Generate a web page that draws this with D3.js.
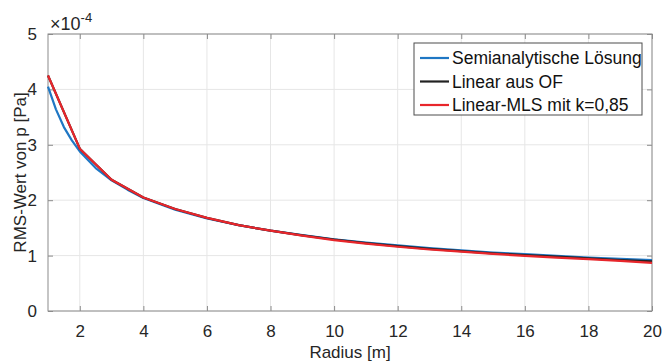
<!DOCTYPE html>
<html>
<head>
<meta charset="utf-8">
<script src="https://cdn.jsdelivr.net/npm/d3@7"></script>
<style>
  body { margin: 0; background: #fff; }
  svg { font-family: "Liberation Sans", Arial, sans-serif; }
</style>
</head>
<body>
<svg id="chart"></svg>
<script>
// values in units of 1e-4 Pa
const radiusFine = [1, 1.25, 1.5, 1.75, 2, 2.5, 3, 3.5, 4, 5, 6, 7, 8, 9, 10, 11, 12, 13, 14, 15, 16, 17, 18, 19, 20]
const semianalytic = [4.05, 3.64, 3.32, 3.08, 2.88, 2.58, 2.36, 2.19, 2.04, 1.83, 1.67, 1.55, 1.45, 1.37, 1.295, 1.235, 1.185, 1.135, 1.095, 1.055, 1.025, 0.995, 0.965, 0.94, 0.92]

const radius = [1, 2, 3, 4, 5, 6, 7, 8, 9, 10, 11, 12, 13, 14, 15, 16, 17, 18, 19, 20]
const linearOF = [4.25, 2.93, 2.37, 2.05, 1.84, 1.68, 1.55, 1.45, 1.365, 1.29, 1.225, 1.17, 1.12, 1.08, 1.04, 1.01, 0.98, 0.95, 0.92, 0.895]
const linearMLS = [4.25, 2.93, 2.37, 2.05, 1.84, 1.68, 1.55, 1.45, 1.36, 1.28, 1.215, 1.16, 1.11, 1.07, 1.03, 0.995, 0.965, 0.935, 0.905, 0.87]

const xTicks = [2, 4, 6, 8, 10, 12, 14, 16, 18, 20]
const yTicks = [0, 1, 2, 3, 4, 5]

const seriesNames = ["Semianalytische Lösung", "Linear aus OF", "Linear-MLS mit k=0,85"]
const seriesColors = ["#1f77c4", "#222222", "#e8262b"]

const width = 663, height = 361
const margin = { top: 34, right: 11, bottom: 50, left: 48 }
const innerW = width - margin.left - margin.right
const innerH = height - margin.top - margin.bottom

const svg = d3.select("#chart").attr("width", width).attr("height", height)
const g = svg.append("g").attr("transform", `translate(${margin.left},${margin.top})`)

const x = d3.scaleLinear().domain([1, 20]).range([0, innerW])
const y = d3.scaleLinear().domain([0, 5]).range([innerH, 0])

// grid
g.append("g")
  .selectAll("line")
  .data(xTicks)
  .join("line")
  .attr("x1", d => x(d)).attr("x2", d => x(d))
  .attr("y1", 0).attr("y2", innerH)
  .attr("stroke", "#e6e6e6")
g.append("g")
  .selectAll("line")
  .data(yTicks)
  .join("line")
  .attr("x1", 0).attr("x2", innerW)
  .attr("y1", d => y(d)).attr("y2", d => y(d))
  .attr("stroke", "#e6e6e6")

// axes (MATLAB style: ticks inward)
const styleAxis = sel => {
  sel.select(".domain").remove()
  sel.selectAll("line").attr("stroke", "#8c8c8c")
  sel.selectAll("text").attr("fill", "#262626").style("font-size", "17px")
}
g.append("g").attr("transform", `translate(0,${innerH})`)
  .call(d3.axisBottom(x).tickValues(xTicks).tickSize(-5).tickPadding(14).tickFormat(d3.format("d")))
  .call(styleAxis)
g.append("g")
  .call(d3.axisLeft(y).tickValues(yTicks).tickSize(-5).tickPadding(11).tickFormat(d3.format("d")))
  .call(styleAxis)
g.append("g")
  .call(d3.axisTop(x).tickValues(xTicks).tickSize(-5).tickFormat(""))
  .call(styleAxis)
g.append("g").attr("transform", `translate(${innerW},0)`)
  .call(d3.axisRight(y).tickValues(yTicks).tickSize(-5).tickFormat(""))
  .call(styleAxis)

g.append("rect")
  .attr("width", innerW).attr("height", innerH)
  .attr("fill", "none").attr("stroke", "#8c8c8c")

// lines
const line = d3.line().x(d => x(d[0])).y(d => y(d[1]))
const seriesData = [
  d3.zip(radiusFine, semianalytic),
  d3.zip(radius, linearOF),
  d3.zip(radius, linearMLS)
]
g.append("g")
  .selectAll("path")
  .data([0, 1, 2])
  .join("path")
  .attr("d", i => line(seriesData[i]))
  .attr("fill", "none")
  .attr("stroke", i => seriesColors[i])
  .attr("stroke-width", 2.2)
  .attr("stroke-linejoin", "round")

// exponent label
const expo = svg.append("text")
  .attr("x", margin.left + 2).attr("y", 30)
  .attr("fill", "#262626").style("font-size", "18px")
expo.append("tspan").text("×10")
expo.append("tspan").attr("dy", -8).style("font-size", "13px").text("-4")

// axis labels
svg.append("text")
  .attr("x", margin.left + innerW / 2).attr("y", height - 3)
  .attr("text-anchor", "middle")
  .attr("fill", "#262626").style("font-size", "17px")
  .text("Radius [m]")
svg.append("text")
  .attr("transform", `translate(26,${margin.top + innerH / 2}) rotate(-90)`)
  .attr("text-anchor", "middle")
  .attr("fill", "#262626").style("font-size", "17px")
  .text("RMS-Wert von p [Pa]")

// legend
const legend = svg.append("g").attr("transform", "translate(414,43)")
legend.append("rect")
  .attr("width", 228).attr("height", 72)
  .attr("fill", "#fff").attr("stroke", "#4d4d4d")
seriesNames.forEach((name, i) => {
  const ly = 15 + i * 23.5
  legend.append("line")
    .attr("x1", 6).attr("x2", 35).attr("y1", ly).attr("y2", ly)
    .attr("stroke", seriesColors[i]).attr("stroke-width", 2.2)
  legend.append("text")
    .attr("x", 38).attr("y", ly + 6)
    .attr("fill", "#111").style("font-size", "17.5px")
    .text(name)
})
</script>
</body>
</html>
